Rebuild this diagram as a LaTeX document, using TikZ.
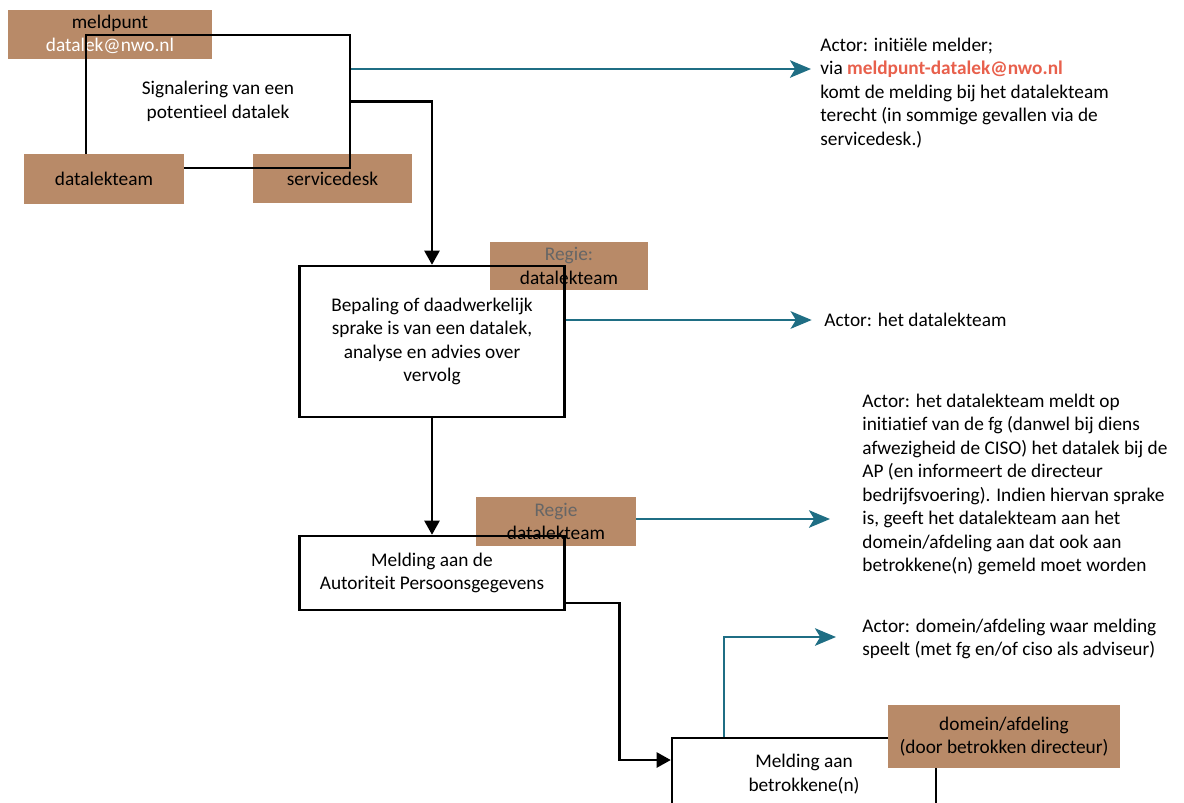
\documentclass[tikz,border=0pt]{standalone}
\usepackage{fontspec}
\setmainfont[Ligatures={NoCommon}]{Carlito}
\usepackage{xcolor}
\usetikzlibrary{arrows.meta}
\definecolor{bruin}{RGB}{184,138,104}
\definecolor{blauw}{RGB}{31,110,132}
\definecolor{koraal}{RGB}{232,96,76}
\tikzset{
	stap/.style={draw, line width=1.4pt, align=center, inner sep=0pt},
	rol/.style={fill=bruin, align=center, inner sep=0pt},
	actor/.style={anchor=west, align=left, inner sep=0pt},
	flow/.style={line width=1.4pt, -{Triangle[length=8pt,width=8.5pt]}},
	pijl/.style={draw=blauw, line width=1.1pt, -{Stealth[length=12pt,width=10pt,inset=3pt]}, blauw}
}
\begin{document}
\begin{tikzpicture}[x=0.02cm, y=-0.02cm, font=\fontsize{11}{13.4}\selectfont]
	\useasboundingbox (0,0) rectangle (1184,802);
	\clip (0,0) rectangle (1184,802);
	% signalering
	\node[rol, minimum width=4.08cm, minimum height=0.98cm] (r1) at (110,34.5) {meldpunt\\\textcolor{white}{datalek@nwo.nl}};
	\node[rol, minimum width=3.18cm, minimum height=0.98cm] (r3) at (332.5,178.5) {servicedesk};
	\node[stap, minimum width=5.28cm, minimum height=2.66cm] (s1) at (218,101.5) {Signalering van een\\potentieel datalek};
	\node[rol, minimum width=3.2cm, minimum height=1cm] (r2) at (104,179) {datalekteam};
	% bepaling
	\node[rol, minimum width=3.16cm, minimum height=0.96cm] (r4) at (569,266) {\textcolor{black!60}{Regie:}\\datalekteam};
	\node[stap, minimum width=5.3cm, minimum height=3.02cm] (s2) at (432,341.5) {Bepaling of daadwerkelijk\\sprake is van een datalek,\\analyse en advies over\\vervolg};
	% melding AP
	\node[rol, minimum width=3.2cm, minimum height=0.98cm] (r5) at (556,521.5) {\textcolor{black!60}{Regie}\\datalekteam};
	\node[stap, minimum width=5.3cm, minimum height=1.48cm] (s3) at (432,573) {Melding aan de\\Autoriteit Persoonsgegevens};
	% melding betrokkenen
	\node[stap, minimum width=5.28cm, minimum height=1.44cm] (s4) at (804,774) {Melding aan\\betrokkene(n)};
	\node[rol, minimum width=4.64cm, minimum height=1.26cm] (r6) at (1004,736.5) {domein/afdeling\\(door betrokken directeur)};

	% actoren
	\node[actor] (a1) at (820,93) {Actor: initiële melder;\\via \textbf{\textcolor{koraal}{meldpunt-datalek@nwo.nl}}\\komt de melding bij het datalekteam\\terecht (in sommige gevallen via de\\servicedesk.)};
	\node[actor] (a2) at (824,320) {Actor: het datalekteam};
	\node[actor] (a3) at (862,484.5) {Actor: het datalekteam meldt op\\initiatief van de fg (danwel bij diens\\afwezigheid de CISO) het datalek bij de\\AP (en informeert de directeur\\bedrijfsvoering). Indien hiervan sprake\\is, geeft het datalekteam aan het\\domein/afdeling aan dat ook aan\\betrokkene(n) gemeld moet worden};
	\node[actor] (a4) at (862,639) {Actor: domein/afdeling waar melding\\speelt (met fg en/of ciso als adviseur)};
	\coordinate (t1) at (811,69);
	\coordinate (t3) at (830,519);
	\coordinate (t4) at (836,637);

	% verbindingen
	\draw[flow] (s1.east) -| (s2.north);
	\draw[flow] (s2.south) -- (s3.north);
	\draw[flow] (s3.east |- 0,603) -- ++(54,0) |- (s4.west |- 0,760);
	\draw[pijl] (s1.east |- t1) -- (t1);
	\draw[pijl] (s2.east |- a2.west) -- ([xshift=-7pt]a2.west);
	\draw[pijl] (r5.east |- t3) -- (t3);
	\draw[pijl] (724,0 |- s4.north) |- (t4);
\end{tikzpicture}
\end{document}
